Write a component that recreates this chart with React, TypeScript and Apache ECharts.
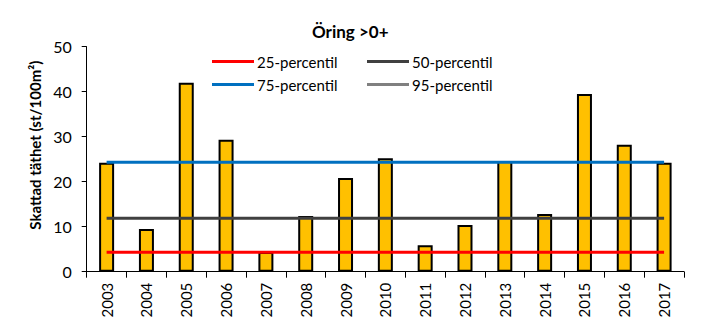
import React, { useEffect, useRef } from "react";
import * as echarts from "echarts";

const years = ["2003","2004","2005","2006","2007","2008","2009","2010","2011","2012","2013","2014","2015","2016","2017"];
const density = [24.2, 9.5, 42.0, 29.3, 4.4, 12.4, 20.8, 25.2, 5.9, 10.4, 24.6, 12.8, 39.5, 28.2, 24.2];
const p25 = 4.3;
const p50 = 11.9;
const p75 = 24.3;
const yTicks = [0, 10, 20, 30, 40, 50];

const FONT = "Lato, 'Open Sans', Arial, sans-serif";

export default function App() {
  const ref = useRef<HTMLDivElement>(null);
  useEffect(() => {
    document.body.style.margin = "0";
    if (!ref.current) return;
    const chart = echarts.init(ref.current, null, { renderer: "svg" });
    const lineSeries = (name: string, v: number | null, color: string) => ({
      name,
      type: "line",
      data: v === null ? [] : years.map(() => v),
      symbol: "none",
      lineStyle: { color, width: 3 },
      itemStyle: { color },
      z: 5,
    });
    const legendItem = (name: string, left: number, top: number) => ({
      data: [name],
      left,
      top,
      icon: "rect",
      itemWidth: 42,
      itemHeight: 3,
      textStyle: { fontFamily: FONT, fontSize: 15, color: "#000", padding: [0, 0, 0, -2] },
    });
    chart.setOption({
      animation: false,
      backgroundColor: "#fff",
      title: {
        text: "Öring >0+",
        left: 312,
        top: 23,
        padding: 0,
        textStyle: { fontFamily: FONT, fontSize: 17, fontWeight: "bold", color: "#000" },
      },
      legend: [
        legendItem("25-percentil", 207, 49),
        legendItem("50-percentil", 362, 49),
        legendItem("75-percentil", 207, 72),
        legendItem("95-percentil", 362, 72),
      ],
      grid: { left: 86.7, right: 24, top: 46.7, bottom: 53.3 },
      xAxis: {
        type: "category",
        data: years,
        boundaryGap: true,
        axisLine: { show: true, lineStyle: { color: "#000", width: 1 } },
        axisTick: { show: true, alignWithLabel: false, length: 6, lineStyle: { color: "#000" } },
        axisLabel: { rotate: 90, fontFamily: FONT, fontSize: 15, color: "#000", margin: 11, interval: 0 },
        splitLine: { show: false },
      },
      yAxis: {
        type: "value",
        min: yTicks[0],
        max: yTicks[yTicks.length - 1],
        interval: 10,
        name: "Skattad täthet (st/100m²)",
        nameLocation: "middle",
        nameGap: 43,
        nameTextStyle: { fontFamily: FONT, fontSize: 15, fontWeight: "bold", color: "#000", padding: [0, 0, 0, 28] },
        axisLine: { show: true, lineStyle: { color: "#000", width: 1 } },
        axisTick: { show: true, inside: false, length: 5, lineStyle: { color: "#000" } },
        axisLabel: { fontFamily: FONT, fontSize: 16, color: "#000", margin: 15 },
        splitLine: { show: false },
      },
      series: [
        {
          name: "Täthet",
          type: "bar",
          data: density,
          barWidth: 15,
          itemStyle: { color: "#FFC000", borderColor: "#000", borderWidth: 2 },
          z: 2,
        },
        lineSeries("25-percentil", p25, "#FF0000"),
        lineSeries("50-percentil", p50, "#404040"),
        lineSeries("75-percentil", p75, "#0070C0"),
        lineSeries("95-percentil", null, "#808080"),
      ],
    });
    return () => chart.dispose();
  }, []);
  return <div ref={ref} style={{ width: 708, height: 325 }} />;
}
